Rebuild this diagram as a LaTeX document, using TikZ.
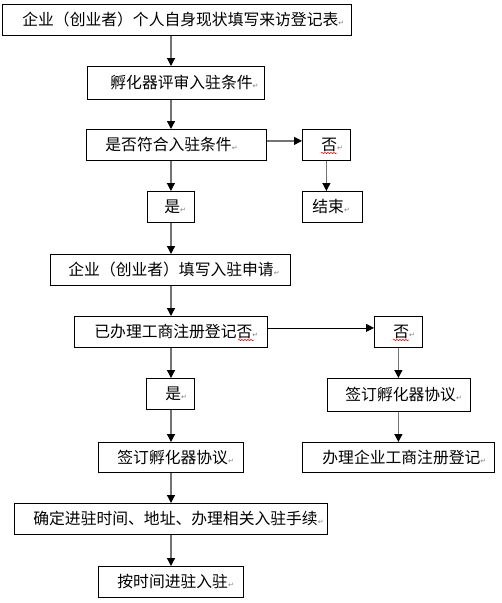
\documentclass[tikz,border=0pt]{standalone}
\usepackage{fontspec}
\setmainfont{Noto Sans CJK SC}
\newfontfamily\markfont{DejaVu Sans}
\usetikzlibrary{arrows.meta,decorations.pathmorphing}

\def\LineGray{black!55}
\newcommand\retmark{{\markfont\fontsize{7}{7}\selectfont\color{gray}↵}}
\newcommand\boxtext[2]{\mbox{\hspace*{#1}#2\retmark}}

\tikzset{
  box/.style={draw, line width=0.8pt, anchor=north west, inner sep=0pt,
    align=left, minimum height=31pt, font=\fontsize{15.8}{17}\selectfont},
  arr/.style={\LineGray, line width=1.2pt,
    -{Triangle[width=8pt,length=8pt,color=black,fill=black]}},
  arrthin/.style={arr, black, line width=0.8pt},
  spell/.style={red, line width=0.5pt, decorate,
    decoration={snake, amplitude=0.7pt, segment length=3pt}}
}

\begin{document}
\begin{tikzpicture}[x=1pt,y=-1pt]
  \useasboundingbox (0,0) rectangle (502,603);
  \coordinate (main) at (171,0);

  % --- Cajas ---
  \node[box, text width=349pt] (visit) at (2,4)
    {\boxtext{20pt}{企业（创业者）个人自身现状填写来访登记表}};
  \node[box, text width=177pt, minimum height=33pt] (review) at (87,66)
    {\boxtext{23pt}{孵化器评审入驻条件}};
  \node[box, text width=180pt] (check) at (86,129)
    {\boxtext{19pt}{是否符合入驻条件}};
  \node[box, text width=48pt] (noA) at (302,129)
    {\boxtext{19pt}{否}};
  \node[box, text width=47pt] (yesA) at (147,191)
    {\boxtext{17pt}{是}};
  \node[box, text width=60pt] (finish) at (302,191)
    {\boxtext{10pt}{结束}};
  \node[box, text width=240pt] (apply) at (50,254)
    {\boxtext{18pt}{企业（创业者）填写入驻申请}};
  \node[box, text width=193pt] (regq) at (74,316)
    {\boxtext{20pt}{已办理工商注册登记否}};
  \node[box, text width=48pt] (noB) at (374,316)
    {\boxtext{19pt}{否}};
  \node[box, text width=48pt] (yesB) at (146,378)
    {\boxtext{19pt}{是}};
  \node[box, text width=143pt, minimum height=33pt] (signR) at (327,378)
    {\boxtext{18pt}{签订孵化器协议}};
  \node[box, text width=145pt, minimum height=30pt] (signL) at (98,442)
    {\boxtext{19pt}{签订孵化器协议}};
  \node[box, text width=192pt, minimum height=30pt] (doreg) at (302,442)
    {\boxtext{20pt}{办理企业工商注册登记}};
  \node[box, text width=313pt] (settle) at (14,503)
    {\boxtext{19pt}{确定进驻时间、地址、办理相关入驻手续}};
  \node[box, text width=145pt] (enter) at (98,566)
    {\boxtext{19pt}{按时间进驻入驻}};

  % --- Flechas ---
  \foreach \a/\b in {visit/review, review/check, yesA/apply, apply/regq,
                     regq/yesB, yesB/signL, signL/settle, settle/enter}{
    \draw[arr] (\a.south -| main) -- (\b.north -| main);
  }
  \draw[arr] (check.south -| yesA.north) -- (yesA.north);
  \draw[arr] ([yshift=4pt]check.east) -- ([yshift=4pt]check.east -| noA.west);
  \draw[arr] (noA.south) -- (noA.south |- finish.north);
  \draw[arrthin] ([yshift=4pt]regq.east) -- ([yshift=4pt]regq.east -| noB.west);
  \draw[arr] (noB.south) -- (noB.south |- signR.north);
  \draw[arr] (signR.south -| noB.south) -- (doreg.north -| noB.south);

  % --- Subrayado ---
  \draw[spell] (321,153) -- (337,153);
  \draw[spell] (238,340) -- (254,340);
  \draw[spell] (393,340) -- (409,340);
\end{tikzpicture}
\end{document}
